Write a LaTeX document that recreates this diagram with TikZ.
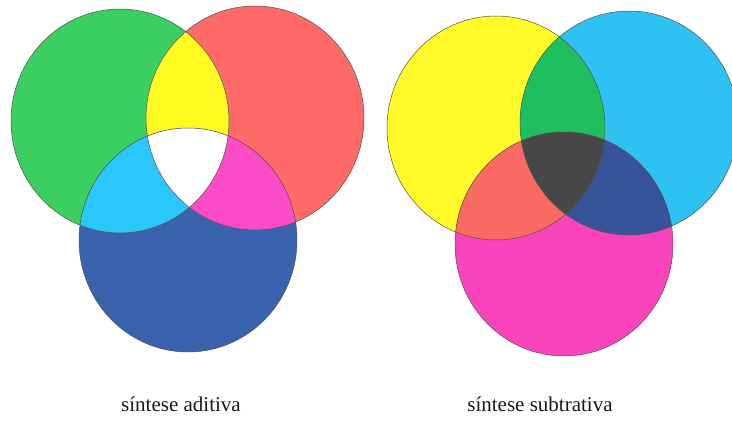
\documentclass[tikz,border=0pt]{standalone}
\usepackage{fontspec}
\setmainfont{Liberation Serif}
\definecolor{cG}{HTML}{3BCF62}
\definecolor{cR}{HTML}{FD6A67}
\definecolor{cB}{HTML}{3A63AE}
\definecolor{cY}{HTML}{FFFA22}
\definecolor{cC}{HTML}{2AC8FA}
\definecolor{cM}{HTML}{FC4BC6}
\definecolor{sY}{HTML}{FFFA28}
\definecolor{sC}{HTML}{2EC2F2}
\definecolor{sM}{HTML}{F944BC}
\definecolor{sG}{HTML}{1FBE5E}
\definecolor{sR}{HTML}{F96A62}
\definecolor{sB}{HTML}{37549A}
\definecolor{sK}{HTML}{474747}
\definecolor{edge}{HTML}{555050}
\tikzset{
  rim/.style={draw=edge, line width=0.5pt},
  caption/.style={font=\fontsize{21}{24}\selectfont, text=black!90, inner sep=0pt}
}
\begin{document}
\begin{tikzpicture}[x=1pt,y=-1pt]
\useasboundingbox (0,0) rectangle (732,428);
\fill[white] (0,0) rectangle (732,428);
% additive
\def\rx{109}\def\ry{112}
\coordinate (G) at (120,121);
\coordinate (R) at (255,118);
\coordinate (B) at (188,240);
\fill[cG] (G) ellipse[x radius=\rx, y radius=\ry];
\fill[cR] (R) ellipse[x radius=\rx, y radius=\ry];
\fill[cB] (B) ellipse[x radius=\rx, y radius=\ry];
\begin{scope}\clip (G) ellipse[x radius=\rx, y radius=\ry];
  \fill[cY] (R) ellipse[x radius=\rx, y radius=\ry];
  \fill[cC] (B) ellipse[x radius=\rx, y radius=\ry];
\end{scope}
\begin{scope}\clip (R) ellipse[x radius=\rx, y radius=\ry];
  \begin{scope}\clip (B) ellipse[x radius=\rx, y radius=\ry];
    \fill[cM] (G) ++(-200,-200) rectangle ++(500,500);
  \end{scope}
\end{scope}
\begin{scope}\clip (G) ellipse[x radius=\rx, y radius=\ry];
  \begin{scope}\clip (R) ellipse[x radius=\rx, y radius=\ry];
    \fill[white] (B) ellipse[x radius=\rx, y radius=\ry];
  \end{scope}
\end{scope}
\draw[rim] (G) ellipse[x radius=\rx, y radius=\ry];
\draw[rim] (R) ellipse[x radius=\rx, y radius=\ry];
\draw[rim] (B) ellipse[x radius=\rx, y radius=\ry];
% subtractive
\coordinate (Y) at (496,128);
\coordinate (C) at (629,123);
\coordinate (M) at (564,244);
\fill[sY] (Y) ellipse[x radius=\rx, y radius=\ry];
\fill[sC] (C) ellipse[x radius=\rx, y radius=\ry];
\fill[sM] (M) ellipse[x radius=\rx, y radius=\ry];
\begin{scope}\clip (Y) ellipse[x radius=\rx, y radius=\ry];
  \fill[sG] (C) ellipse[x radius=\rx, y radius=\ry];
  \fill[sR] (M) ellipse[x radius=\rx, y radius=\ry];
\end{scope}
\begin{scope}\clip (C) ellipse[x radius=\rx, y radius=\ry];
  \begin{scope}\clip (M) ellipse[x radius=\rx, y radius=\ry];
    \fill[sB] (Y) ++(-200,-200) rectangle ++(500,500);
  \end{scope}
\end{scope}
\begin{scope}\clip (Y) ellipse[x radius=\rx, y radius=\ry];
  \begin{scope}\clip (C) ellipse[x radius=\rx, y radius=\ry];
    \fill[sK] (M) ellipse[x radius=\rx, y radius=\ry];
  \end{scope}
\end{scope}
\draw[rim] (Y) ellipse[x radius=\rx, y radius=\ry];
\draw[rim] (C) ellipse[x radius=\rx, y radius=\ry];
\draw[rim] (M) ellipse[x radius=\rx, y radius=\ry];
% captions
\node[caption] (ladd) at (181,404) {síntese aditiva};
\node[caption] (lsub) at (540,404) {síntese subtrativa};
\end{tikzpicture}
\end{document}
